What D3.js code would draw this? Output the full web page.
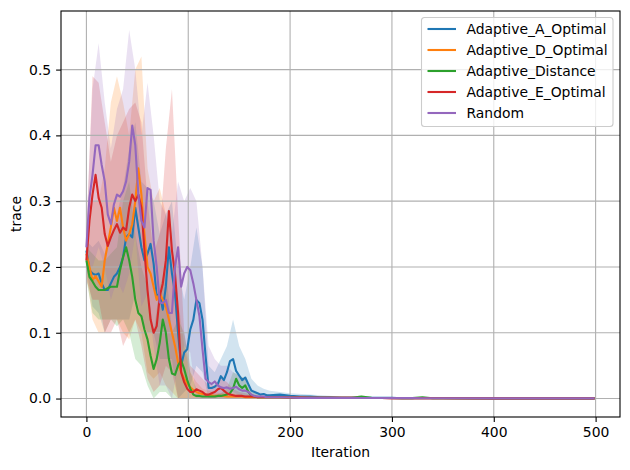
<!DOCTYPE html>
<html>
<head>
<meta charset="utf-8">
<style>
body { margin: 0; background: white; }
text { font-family: 'DejaVu Sans', sans-serif; }
</style>
</head>
<body>
<script src="https://d3js.org/d3.v7.min.js"></script>
<div id="chart"></div>
<script>

// iterations where the mean lines were read
var iters = [0,3,6,9,12,15,18,21,24,27,30,33,36,39,42,45,48,51,54,57,60,63,66,69,72,75,78,81,84,87,90,93,96,99,102,105,108,111,114,117,120,123,126,129,132,135,138,141,144,147,150,153,156,159,162,165,168,171,174,177,180,
  190,200,210,220,230,240,250,260,270,280,290,300,310,320,330,340,350,400,450,499];

var seriesNames = ["Adaptive_A_Optimal", "Adaptive_D_Optimal", "Adaptive_Distance", "Adaptive_E_Optimal", "Random"];

var aOptimal = [.225,.195,.19,.188,.19,.175,.165,.165,.175,.185,.19,.2,.215,.245,.25,.245,.29,.26,.23,.21,.22,.235,.205,.155,.16,.135,.17,.23,.19,.16,.1,.05,.07,.075,.105,.12,.15,.145,.12,.065,.016,.016,.018,.022,.034,.028,.04,.057,.06,.042,.035,.028,.032,.022,.012,.01,.008,.006,.007,.005,.005,
  .006,.004,.003,.003,.002,.002,.001,.001,.001,.001,.001,.001,.0005,.0005,.0005,.0005,.0005,.0003,.0003,.0003];
var dOptimal = [.22,.2,.18,.186,.178,.17,.21,.235,.26,.29,.27,.29,.26,.24,.25,.265,.3,.35,.31,.25,.2,.19,.17,.15,.16,.15,.14,.12,.1,.08,.055,.04,.03,.022,.017,.013,.01,.008,.007,.006,.005,.005,.004,.004,.004,.004,.003,.003,.003,.003,.003,.003,.002,.002,.002,.002,.002,.002,.002,.002,.002,
  .002,.0015,.0015,.001,.001,.001,.001,.001,.0008,.0008,.0008,.0006,.0006,.0006,.0005,.0005,.0005,.0003,.0003,.0003];
var distance = [.21,.185,.178,.17,.165,.165,.165,.168,.17,.17,.17,.195,.215,.23,.21,.185,.15,.13,.125,.105,.09,.065,.045,.06,.085,.12,.1,.06,.038,.036,.05,.058,.045,.028,.015,.006,.004,.004,.003,.003,.003,.003,.003,.004,.004,.005,.006,.008,.015,.03,.02,.016,.02,.01,.004,.003,.002,.002,.002,.002,.002,
  .002,.0015,.001,.001,.001,.001,.001,.001,.003,.001,.0008,.0008,.0006,.0006,.002,.0005,.0005,.0003,.0003,.0003];
var eOptimal = [.21,.27,.31,.34,.305,.29,.25,.232,.245,.256,.265,.252,.26,.256,.29,.31,.3,.31,.29,.225,.165,.12,.1,.11,.155,.175,.21,.285,.225,.19,.13,.04,.025,.015,.01,.01,.014,.012,.01,.006,.006,.008,.01,.014,.016,.012,.008,.006,.005,.004,.004,.004,.003,.003,.003,.003,.002,.002,.002,.002,.002,
  .002,.0015,.0015,.001,.001,.001,.001,.001,.0008,.0008,.0008,.0006,.0006,.0006,.0005,.0005,.0005,.0003,.0003,.0003];
var random = [.23,.305,.34,.385,.385,.355,.33,.28,.265,.295,.31,.307,.315,.33,.36,.415,.385,.31,.27,.26,.32,.317,.24,.2,.146,.145,.15,.13,.13,.2,.23,.17,.19,.2,.195,.175,.15,.125,.075,.03,.025,.022,.026,.02,.017,.016,.017,.015,.016,.018,.014,.012,.012,.01,.006,.004,.003,.003,.003,.002,.002,
  .002,.0015,.001,.001,.001,.001,.001,.001,.0008,.0008,.0008,.0006,.0006,.0006,.0005,.0005,.0005,.0003,.0003,.0003];

// iterations where the shaded bands were read
var bandIters = [0,6,12,18,24,30,36,42,48,54,60,66,72,78,84,90,96,102,108,114,120,126,132,138,144,150,156,162,168,174,180,200,250,300,400,499];

var aHi = [.24,.23,.24,.22,.25,.28,.32,.38,.42,.33,.32,.30,.25,.28,.30,.20,.15,.20,.26,.20,.05,.04,.06,.08,.12,.08,.06,.03,.02,.015,.012,.008,.003,.001,.0005,.0005];
var aLo = [.2,.14,.13,.1,.12,.12,.12,.12,.16,.12,.1,.1,.06,.06,.06,0,.01,.02,.05,.04,0,0,.005,.01,.01,.005,0,0,0,0,0,0,0,0,0,0];
var dHi = [.25,.3,.3,.35,.45,.49,.45,.4,.5,.52,.35,.3,.32,.28,.22,.15,.08,.04,.025,.015,.012,.01,.008,.008,.008,.006,.005,.005,.004,.004,.004,.003,.002,.001,.0005,.0005];
var dLo = [.19,.12,.1,.1,.12,.12,.1,.09,.12,.1,.04,.03,.04,.02,.01,0,0,0,0,0,0,0,0,0,0,0,0,0,0,0,0,0,0,0,0,0];
var distHi = [.23,.22,.21,.21,.22,.23,.3,.33,.25,.2,.17,.1,.17,.2,.1,.12,.1,.04,.015,.008,.006,.006,.008,.015,.04,.035,.03,.01,.006,.004,.004,.003,.002,.001,.0005,.0005];
var distLo = [.18,.13,.12,.12,.12,.11,.12,.1,.06,.05,.02,0,.01,.01,0,0,0,0,0,0,0,0,0,0,0,0,0,0,0,0,0,0,0,0,0,0];
var eHi = [.25,.49,.48,.42,.36,.4,.42,.44,.45,.42,.3,.22,.25,.38,.47,.28,.1,.05,.04,.03,.02,.02,.03,.025,.015,.01,.008,.006,.005,.004,.004,.003,.002,.001,.0005,.0005];
var eLo = [.18,.15,.15,.1,.1,.12,.08,.1,.12,.08,.03,.01,.02,.05,.04,0,0,0,0,0,0,0,0,0,0,0,0,0,0,0,0,0,0,0,0,0];
var randHi = [.26,.47,.54,.45,.38,.44,.47,.56,.5,.4,.48,.4,.3,.28,.25,.33,.3,.32,.3,.2,.08,.06,.05,.05,.04,.035,.03,.015,.01,.008,.006,.004,.002,.001,.0005,.0005];
var randLo = [.2,.2,.23,.2,.15,.18,.16,.19,.25,.14,.16,.08,.02,.02,0,.05,.08,.07,0,0,0,0,0,0,0,0,0,0,0,0,0,0,0,0,0,0];

var xTicks = [0, 100, 200, 300, 400, 500];
var yTicks = [0.0, 0.1, 0.2, 0.3, 0.4, 0.5];

var colors = ["#1f77b4", "#ff7f0e", "#2ca02c", "#d62728", "#9467bd"];
var means = [aOptimal, dOptimal, distance, eOptimal, random];
var his = [aHi, dHi, distHi, eHi, randHi];
var los = [aLo, dLo, distLo, eLo, randLo];

// plot box in pixels
var W = 630, H = 470;
var pLeft = 61, pRight = 620, pTop = 11, pBottom = 417;
var fs = 13.9;

var svg = d3.select("#chart").append("svg")
  .attr("width", W).attr("height", H);

var x = d3.scaleLinear().domain([-24.95, 523.95]).range([pLeft, pRight]);
var y = d3.scaleLinear().domain([-0.02805, 0.58905]).range([pBottom, pTop]);

// bands first, under grid and lines
seriesNames.forEach(function(name, s) {
  var area = d3.area()
    .x(function(d, i) { return x(bandIters[i]); })
    .y0(function(d, i) { return y(los[s][i]); })
    .y1(function(d) { return y(d); });
  svg.append("path")
    .attr("d", area(his[s]))
    .attr("fill", colors[s])
    .attr("fill-opacity", 0.2);
});

// grid
svg.append("g").selectAll("line").data(xTicks).enter().append("line")
  .attr("x1", function(d) { return x(d); }).attr("x2", function(d) { return x(d); })
  .attr("y1", pTop).attr("y2", pBottom)
  .attr("stroke", "#b0b0b0").attr("stroke-width", 1.1);
svg.append("g").selectAll("line").data(yTicks).enter().append("line")
  .attr("y1", function(d) { return y(d); }).attr("y2", function(d) { return y(d); })
  .attr("x1", pLeft).attr("x2", pRight)
  .attr("stroke", "#b0b0b0").attr("stroke-width", 1.1);

// mean lines
seriesNames.forEach(function(name, s) {
  var line = d3.line()
    .x(function(d, i) { return x(iters[i]); })
    .y(function(d) { return y(d); });
  svg.append("path")
    .attr("d", line(means[s]))
    .attr("fill", "none")
    .attr("stroke", colors[s])
    .attr("stroke-width", 2.1)
    .attr("stroke-linejoin", "round");
});

// axes
var xAxis = svg.append("g")
  .attr("transform", "translate(0," + pBottom + ")")
  .call(d3.axisBottom(x).tickValues(xTicks).tickSize(4.9).tickPadding(4.9).tickSizeOuter(0));
var yAxis = svg.append("g")
  .attr("transform", "translate(" + pLeft + ",0)")
  .call(d3.axisLeft(y).tickValues(yTicks).tickFormat(d3.format(".1f")).tickSize(4.9).tickPadding(4.9).tickSizeOuter(0));
[xAxis, yAxis].forEach(function(a) {
  a.select(".domain").remove();
  a.selectAll("line").attr("stroke", "#000").attr("stroke-width", 1.1);
  a.selectAll("text").attr("fill", "#000").style("font-size", fs + "px").style("font-family", "'DejaVu Sans', sans-serif");
});

// frame
svg.append("rect")
  .attr("x", pLeft).attr("y", pTop)
  .attr("width", pRight - pLeft).attr("height", pBottom - pTop)
  .attr("fill", "none").attr("stroke", "#000").attr("stroke-width", 1.1);

// labels
svg.append("text").attr("x", (pLeft + pRight) / 2).attr("y", 457)
  .attr("text-anchor", "middle").style("font-size", fs + "px").text("Iteration");
svg.append("text").attr("transform", "translate(21," + ((pTop + pBottom) / 2) + ")rotate(-90)")
  .attr("text-anchor", "middle").style("font-size", fs + "px").text("trace");

// legend
var lg = svg.append("g").attr("transform", "translate(421.5,17.5)");
lg.append("rect").attr("width", 191.5).attr("height", 109)
  .attr("rx", 3).attr("fill", "white").attr("fill-opacity", 0.8)
  .attr("stroke", "#cccccc").attr("stroke-width", 1.1);
seriesNames.forEach(function(name, s) {
  var ly = 11.5 + s * 21;
  lg.append("line").attr("x1", 6).attr("x2", 34.5).attr("y1", ly).attr("y2", ly)
    .attr("stroke", colors[s]).attr("stroke-width", 2.1);
  lg.append("text").attr("x", 45).attr("y", ly).attr("dy", "0.35em")
    .style("font-size", fs + "px").text(name);
});

</script>
</body>
</html>
